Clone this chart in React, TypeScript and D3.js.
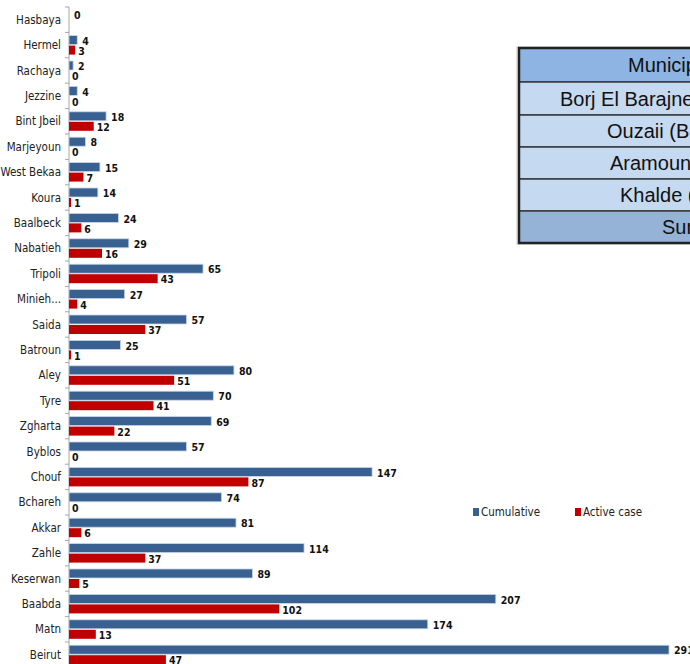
import { useEffect, useRef } from "react";
import * as d3 from "d3";

const categories = [
  "Hasbaya", "Hermel", "Rachaya", "Jezzine", "Bint Jbeil", "Marjeyoun", "West Bekaa",
  "Koura", "Baalbeck", "Nabatieh", "Tripoli", "Minieh...", "Saida", "Batroun", "Aley",
  "Tyre", "Zgharta", "Byblos", "Chouf", "Bchareh", "Akkar", "Zahle", "Keserwan",
  "Baabda", "Matn", "Beirut",
];
const cumulative = [0, 4, 2, 4, 18, 8, 15, 14, 24, 29, 65, 27, 57, 25, 80, 70, 69, 57, 147, 74, 81, 114, 89, 207, 174, 291];
const active: (number | null)[] = [null, 3, 0, 0, 12, 0, 7, 1, 6, 16, 43, 4, 37, 1, 51, 41, 22, 0, 87, 0, 6, 37, 5, 102, 13, 47];

const tableRows = ["Municipality", "Borj El Barajneh", "Ouzaii (Beirut)", "Aramoun (Aley)", "Khalde (Aley)", "Sum"];
const tableTextX = [628, 560, 607, 610, 620, 662];

const BLUE = "#386192";
const RED = "#c00000";

function App() {
  const svgRef = useRef<SVGSVGElement>(null);

  useEffect(() => {
    const svgEl = svgRef.current;
    if (!svgEl) return;
    const svg = d3.select(svgEl);
    svg.selectAll("*").remove();

    const font = "'DejaVu Sans Condensed', 'Liberation Sans Narrow', Arial, sans-serif";
    const x0 = 69;

    const xScale = d3.scaleLinear().domain([0, 291]).range([x0, 669]);
    const yScale = d3.scaleBand().domain(categories).range([7, 7 + 26 * 25.4]);

    const data = categories.map((c, i) => ({ c, cum: cumulative[i], act: active[i] }));
    const mid = (c: string) => yScale(c)! + yScale.bandwidth() / 2;

    // axis
    const axis = svg.append("g").attr("transform", `translate(${x0},0)`);
    axis.append("line").attr("y1", 7).attr("y2", 664).attr("stroke", "#a6a6a6");
    categories.forEach((c) => {
      axis.append("line")
        .attr("x1", -4).attr("x2", 0)
        .attr("y1", yScale(c)!).attr("y2", yScale(c)!)
        .attr("stroke", "#a6a6a6");
    });
    svg.append("g")
      .selectAll("text")
      .data(data)
      .join("text")
      .attr("x", 61)
      .attr("y", (d) => mid(d.c))
      .attr("dy", "0.35em")
      .attr("text-anchor", "end")
      .style("font-family", font)
      .style("font-size", "11.5px")
      .style("fill", "#222")
      .text((d) => d.c);

    // cumulative bars
    svg.append("g")
      .selectAll("rect")
      .data(data.filter((d) => d.cum > 0))
      .join("rect")
      .attr("x", x0)
      .attr("y", (d) => mid(d.c) - 9.5)
      .attr("width", (d) => xScale(d.cum) - x0)
      .attr("height", 9)
      .attr("fill", BLUE)
      .attr("stroke", "#c9d5e6")
      .attr("stroke-width", 0.8);

    // active bars
    svg.append("g")
      .selectAll("rect")
      .data(data.filter((d) => d.act !== null && d.act > 0))
      .join("rect")
      .attr("x", x0)
      .attr("y", (d) => mid(d.c) + 0.5)
      .attr("width", (d) => xScale(d.act as number) - x0)
      .attr("height", 9)
      .attr("fill", RED);

    // labels
    svg.append("g")
      .selectAll("text")
      .data(data)
      .join("text")
      .attr("x", (d) => xScale(d.cum) + 5)
      .attr("y", (d) => mid(d.c) - 4)
      .attr("dy", "0.35em")
      .style("font-family", font)
      .style("font-size", "10.5px")
      .style("font-weight", "bold")
      .style("fill", "#111")
      .text((d) => d.cum);

    svg.append("g")
      .selectAll("text")
      .data(data.filter((d) => d.act !== null))
      .join("text")
      .attr("x", (d) => xScale(d.act as number) + 3)
      .attr("y", (d) => mid(d.c) + 6)
      .attr("dy", "0.35em")
      .style("font-family", font)
      .style("font-size", "10.5px")
      .style("font-weight", "bold")
      .style("fill", "#111")
      .text((d) => d.act as number);

    // legend
    const legend = [
      { label: "Cumulative", color: BLUE, x: 473 },
      { label: "Active case", color: RED, x: 575 },
    ];
    legend.forEach((l) => {
      svg.append("rect").attr("x", l.x).attr("y", 508).attr("width", 6).attr("height", 8).attr("fill", l.color);
      svg.append("text")
        .attr("x", l.x + 8).attr("y", 512).attr("dy", "0.35em")
        .style("font-family", font).style("font-size", "11.5px").style("fill", "#222")
        .text(l.label);
    });

    // table
    const rowEdges = [48, 82, 115, 147, 179, 211, 243];
    const fills = ["#8db4e2", "#c5d9f1", "#c5d9f1", "#c5d9f1", "#c5d9f1", "#95b3d7"];
    const tbl = svg.append("g");
    tbl.append("rect").attr("x", 516).attr("y", 46).attr("width", 200).attr("height", 199).attr("fill", "#d0d0d0").attr("opacity", 0.6);
    tableRows.forEach((r, i) => {
      tbl.append("rect")
        .attr("x", 519).attr("y", rowEdges[i])
        .attr("width", 200).attr("height", rowEdges[i + 1] - rowEdges[i])
        .attr("fill", fills[i]).attr("stroke", "#3a3a3a").attr("stroke-width", 1.5);
      tbl.append("text")
        .attr("x", tableTextX[i])
        .attr("y", (rowEdges[i] + rowEdges[i + 1]) / 2)
        .attr("dy", "0.35em")
        .style("font-family", "'Liberation Sans', Arial, sans-serif")
        .style("font-size", "20px")
        .style("fill", "#111")
        .text(r);
    });
    tbl.append("rect").attr("x", 519).attr("y", 48).attr("width", 200).attr("height", 195)
      .attr("fill", "none").attr("stroke", "#222").attr("stroke-width", 2.5);
  }, []);

  return (
    <svg
      ref={svgRef}
      width={690}
      height={664}
      style={{ position: "absolute", left: 0, top: 0, background: "#fff" }}
    />
  );
}

export default App;
